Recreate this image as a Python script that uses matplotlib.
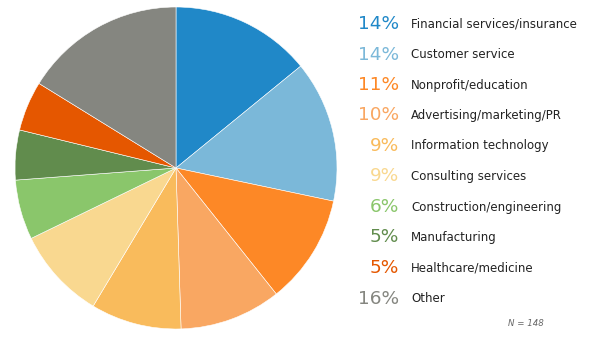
import matplotlib
matplotlib.use("Agg")
import matplotlib.pyplot as plt

# ── Data ───────────────────────────────────────────────────────────────
categories = [
    "Financial services/insurance",
    "Customer service",
    "Nonprofit/education",
    "Advertising/marketing/PR",
    "Information technology",
    "Consulting services",
    "Construction/engineering",
    "Manufacturing",
    "Healthcare/medicine",
    "Other",
]
shares = [14.1, 14.2, 11.0, 10.2, 9.1, 9.2, 6.0, 5.0, 5.0, 16.2]
pct_labels = ["14%", "14%", "11%", "10%", "9%", "9%", "6%", "5%", "5%", "16%"]
colors = [
    "#2088c8", "#7bb8d9", "#fd8826", "#f9a762", "#f9bb5c",
    "#f9d890", "#8ac66b", "#618c4d", "#e55700", "#858680",
]
n_note = "N = 148"

plt.rcParams["font.family"] = "DejaVu Sans"

W, H = 608, 351
fig = plt.figure(figsize=(W / 100, H / 100), dpi=100)

# pie: centre (176,168) px, radius ~161 px
cx, cy, r = 176, 168, 161
ax = fig.add_axes([(cx - r) / W, (H - cy - r) / H, 2 * r / W, 2 * r / H])
ax.pie(shares, colors=colors, startangle=90, counterclock=False,
       radius=1.0, wedgeprops=dict(edgecolor="white", linewidth=0.4))
ax.set_xlim(-1, 1)
ax.set_ylim(-1, 1)
ax.set_aspect("equal")
ax.axis("off")

# legend rows
row_y0, row_dy = 24, 30.5
for i, (cat, pct, col) in enumerate(zip(categories, pct_labels, colors)):
    y = 1 - (row_y0 + i * row_dy) / H
    fig.text(399 / W, y, pct, ha="right", va="center", fontsize=13.3, color=col)
    fig.text(411 / W, y, cat, ha="left", va="center", fontsize=8.5, color="#222222")

fig.text(526 / W, 1 - 323 / H, n_note, ha="center", va="center",
         fontsize=6.2, style="italic", color="#666666")

fig.savefig("out.png", dpi=100)
